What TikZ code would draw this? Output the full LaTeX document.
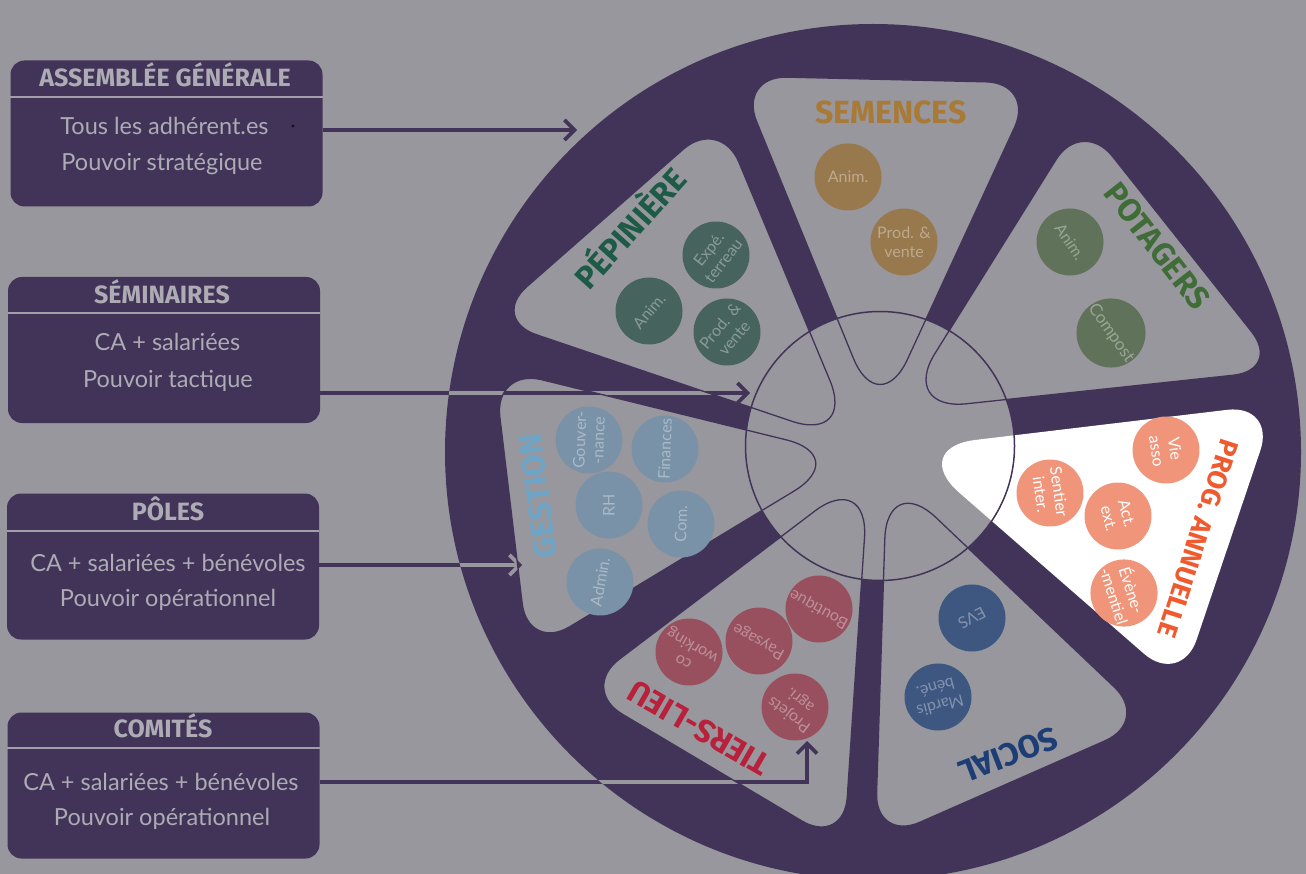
\documentclass[tikz,border=0pt]{standalone}
\usepackage{fontspec}
\setmainfont{Lato}
\newfontfamily\tfont{Fira Sans}
\usetikzlibrary{arrows.meta,calc}
\definecolor{bg}{HTML}{98979D}
\definecolor{pur}{HTML}{423458}
\definecolor{boxtxt}{HTML}{ADABB4}
\definecolor{sepline}{HTML}{A29FAA}
\definecolor{semT}{HTML}{A97A35}
\definecolor{semB}{HTML}{98784D}
\definecolor{pepT}{HTML}{1E5B47}
\definecolor{pepB}{HTML}{47635E}
\definecolor{potT}{HTML}{3F6C37}
\definecolor{potB}{HTML}{607259}
\definecolor{proT}{HTML}{EF5A2F}
\definecolor{proB}{HTML}{F0957A}
\definecolor{socT}{HTML}{1D3E75}
\definecolor{socB}{HTML}{3D5780}
\definecolor{tieT}{HTML}{B8203B}
\definecolor{tieB}{HTML}{98505F}
\definecolor{gesT}{HTML}{6EA5C6}
\definecolor{gesB}{HTML}{7992A8}

\newcommand\trifill[4]{\filldraw[#4] ($(#1)!0.5!(#2)$) [rounded corners=49pt] -- (#2) -- ($(#2)!0.5!(#3)$) [rounded corners=68pt] -- (#3) -- ($(#3)!0.5!(#1)$) [rounded corners=49pt] -- (#1) -- cycle;}
\newcommand\triclip[3]{\clip ($(#1)!0.5!(#2)$) [rounded corners=49pt] -- (#2) -- ($(#2)!0.5!(#3)$) [rounded corners=68pt] -- (#3) -- ($(#3)!0.5!(#1)$) [rounded corners=49pt] -- (#1) -- cycle;}
\newcommand\conns[1]{%
  \draw[conn,draw=#1] (b1.east |- t1) -- (t1);
  \draw[conn,draw=#1] (b2.east |- t2) -- (t2);
  \draw[conn,draw=#1] (b3.east |- t3) -- (t3);
  \draw[conn,draw=#1] (b4.east |- tc) -- (tc) -- (t4);
}

\begin{document}
\begin{tikzpicture}[x=1pt,y=-1pt,
  box/.style={fill=pur, rounded corners=14pt, minimum width=312pt, minimum height=146pt, inner sep=0pt},
  boxtitle/.style={text=boxtxt, font=\tfont\bfseries\fontsize{25}{29}\selectfont, inner sep=0pt, anchor=base},
  boxbody/.style={text=boxtxt, font=\fontsize{23.5}{27}\selectfont, inner sep=0pt, anchor=base},
  sepl/.style={draw=sepline, line width=2pt},
  conn/.style={line width=3.6pt, -{Straight Barb[length=10pt,width=20pt]}},
  bub/.style={circle, minimum size=67pt, inner sep=0pt, align=center, font=\fontsize{16}{18.5}\selectfont},
  dbub/.style={bub, fill=#1, text=white!36!#1},
  pbub/.style={bub, fill=proB, text=white},
  wtitle/.style={font=\tfont\bfseries\fontsize{32}{36}\selectfont, inner sep=0pt},
]
\useasboundingbox (0,0) rectangle (1306,874);
\fill[bg] (0,0) rectangle (1306,874);

% ---- left boxes
\node[box] (b1) at (166.5,133.5) {};
\node[box] (b2) at (164,350) {};
\node[box] (b3) at (163,566.5) {};
\node[box] (b4) at (163.5,785.5) {};
\draw[sepl] (b1.west |- 0,97) -- (b1.east |- 0,97);
\draw[sepl] (b2.west |- 0,313) -- (b2.east |- 0,313);
\draw[sepl] (b3.west |- 0,531) -- (b3.east |- 0,531);
\draw[sepl] (b4.west |- 0,748) -- (b4.east |- 0,748);
\node[boxtitle] (h1) at (165,87) {ASSEMBLÉE GÉNÉRALE};
\node[boxtitle] (h2) at (162,304) {SÉMINAIRES};
\node[boxtitle] (h3) at (168,520) {PÔLES};
\node[boxtitle] (h4) at (163,737) {COMITÉS};
\node[boxbody] (l11) at (164.5,135) {Tous les adhérent.es};
\node[boxbody] (l12) at (162,171) {Pouvoir stratégique};
\node[boxbody] (l21) at (167.5,351) {CA + salariées};
\node[boxbody] (l22) at (168,388) {Pouvoir tactique};
\node[boxbody] (l31) at (168,571) {CA + salariées + bénévoles};
\node[boxbody] (l32) at (168,606) {Pouvoir opérationnel};
\node[boxbody] (l41) at (161,790) {CA + salariées + bénévoles};
\node[boxbody] (l42) at (162,825) {Pouvoir opérationnel};
\fill[black!70!pur] (293,126) circle (1.6pt);

% ---- connector ends
\coordinate (t1) at (577,130);
\coordinate (t2) at (750,393);
\coordinate (t3) at (522,565);
\coordinate (tc) at (807,782);
\coordinate (t4) at (807,741);

% ---- triangle corners
\coordinate (semO1) at (738,76);   \coordinate (semO2) at (1035,83);  \coordinate (semA) at (879,421);
\coordinate (potO1) at (1082,118); \coordinate (potO2) at (1282,370); \coordinate (potA) at (899,411);
\coordinate (proO1) at (1276,404); \coordinate (proO2) at (1181,686); \coordinate (proA) at (908,448);
\coordinate (socO1) at (1150,721); \coordinate (socO2) at (875,842);  \coordinate (socA) at (887,471);
\coordinate (tieO1) at (844,846);  \coordinate (tieO2) at (580,689);  \coordinate (tieA) at (869,470);
\coordinate (gesO1) at (528,652);  \coordinate (gesO2) at (494,368);  \coordinate (gesA) at (852,456);
\coordinate (pepO1) at (490,319);  \coordinate (pepO2) at (720,117);  \coordinate (pepA) at (856,443);

% ---- arrows, outside parts
\conns{pur}
% ---- wheel
\fill[pur] (873,452) ellipse [x radius=428pt, y radius=428pt];
\begin{scope}
  \clip (873,452) ellipse [x radius=428pt, y radius=428pt];
  \conns{bg}
\end{scope}
\fill[bg] (880,446) circle [radius=134.5pt];
\trifill{semO1}{semO2}{semA}{fill=bg, draw=pur, line width=1.3pt}
\trifill{potO1}{potO2}{potA}{fill=bg, draw=pur, line width=1.3pt}
\trifill{proO1}{proO2}{proA}{fill=white, draw=none}
\trifill{socO1}{socO2}{socA}{fill=bg, draw=pur, line width=1.3pt}
\trifill{tieO1}{tieO2}{tieA}{fill=bg, draw=pur, line width=1.3pt}
\trifill{gesO1}{gesO2}{gesA}{fill=bg, draw=pur, line width=1.3pt}
\trifill{pepO1}{pepO2}{pepA}{fill=bg, draw=pur, line width=1.3pt}
\begin{scope}\triclip{pepO1}{pepO2}{pepA}\conns{pur}\end{scope}
\begin{scope}\triclip{gesO1}{gesO2}{gesA}\conns{pur}\end{scope}
\begin{scope}\triclip{tieO1}{tieO2}{tieA}\conns{pur}\end{scope}
\draw[pur, line width=1.5pt] (880,446) circle [radius=134.5pt];

% ---- titles
\node[wtitle, text=semT] (semTn) at (891,112) {SEMENCES};
\node[wtitle, text=pepT, rotate=48] (pepTn) at (628,226) {PÉPINIÈRE};
\node[wtitle, text=potT, rotate=-52] (potTn) at (1157,246) {POTAGERS};
\node[wtitle, text=proT, rotate=-108, font=\tfont\bfseries\fontsize{27}{30}\selectfont] (proTn) at (1198,539) {PROG. ANNUELLE};
\node[wtitle, text=socT, rotate=-159] (socTn) at (1008,755) {SOCIAL};
\node[wtitle, text=tieT, rotate=150] (tieTn) at (699,728) {TIERS-LIEU};
\node[wtitle, text=gesT, rotate=98] (gesTn) at (538,496) {GESTION};

% ---- bubbles
\node[dbub=semB] (sem1) at (848,177) {Anim.};
\node[dbub=semB] (sem2) at (904,242) {Prod. \&\\vente};
\node[dbub=pepB, rotate=52] (pep1) at (716,255) {Expé.\\terreau};
\node[dbub=pepB, rotate=50] (pep2) at (649,311) {Anim.};
\node[dbub=pepB, rotate=50] (pep3) at (727,332) {Prod. \&\\vente};
\node[dbub=potB, rotate=-56] (pot1) at (1070,242) {Anim.};
\node[dbub=potB, rotate=-55, font=\fontsize{17}{19}\selectfont] (pot2) at (1111,333) {Compost};
\node[pbub, rotate=-82] (pro1) at (1166,450) {Vie\\asso};
\node[pbub, rotate=-82] (pro2) at (1050,493) {Sentier\\inter.};
\node[pbub, rotate=-75] (pro3) at (1118,516) {Act.\\ext.};
\node[pbub, rotate=-72] (pro4) at (1124,593) {Évène-\\-mentiel};
\node[dbub=socB, rotate=-152] (soc1) at (972,618) {EVS};
\node[dbub=socB, rotate=-165] (soc2) at (938,697) {Mardis\\béné.};
\node[dbub=tieB, rotate=151] (tie1) at (819,609) {Boutique};
\node[dbub=tieB, rotate=150] (tie2) at (759,641) {Paysage};
\node[dbub=tieB, rotate=150] (tie3) at (689,652) {co\\working};
\node[dbub=tieB, rotate=143] (tie4) at (795,707) {Projets\\agri.};
\node[dbub=gesB, rotate=88] (ges1) at (589,440) {Gouver-\\-nance};
\node[dbub=gesB, rotate=88] (ges2) at (665,449) {Finances};
\node[dbub=gesB, rotate=90] (ges3) at (609,505) {RH};
\node[dbub=gesB, rotate=88] (ges4) at (681,524) {Com.};
\node[dbub=gesB, rotate=80] (ges5) at (600,582) {Admin.};
\end{tikzpicture}
\end{document}
